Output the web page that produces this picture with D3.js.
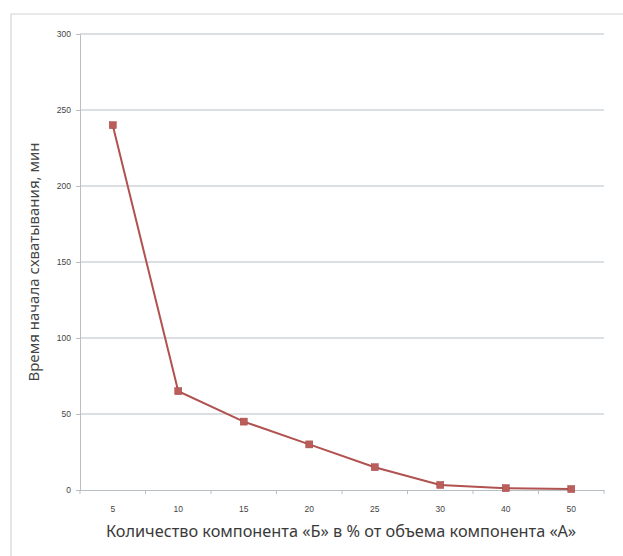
<!DOCTYPE html>
<html><head><meta charset="utf-8">
<script src="https://cdn.jsdelivr.net/npm/d3@7"></script>
<style>body{margin:0;background:#fff}svg{display:block}</style>
</head><body>
<script>
const categories = ["5","10","15","20","25","30","40","50"];
const values = [240, 65, 45, 30, 15, 3.3, 1.2, 0.6];
const yTicks = [0, 50, 100, 150, 200, 250, 300];
const xTitle = "Количество компонента «Б» в % от объема компонента «А»";
const yTitle = "Время начала схватывания, мин";

const W = 623, H = 556;
const svg = d3.select("body").append("svg").attr("width", W).attr("height", H);
const m = {left: 80, right: 604, top: 34, bottom: 490};

// frame
svg.append("path").attr("d", `M11,${H} L11,14 L${W},14`).attr("fill","none").attr("stroke","#d4d4d4").attr("stroke-width",1.2);

const x = d3.scaleBand().domain(categories).range([m.left, m.right]);
const y = d3.scaleLinear().domain([0, 300]).range([m.bottom, m.top]);

// gridlines
svg.append("g").selectAll("line").data(yTicks.filter(d => d > 0)).join("line")
  .attr("x1", m.left).attr("x2", m.right)
  .attr("y1", d => y(d)).attr("y2", d => y(d))
  .attr("stroke", "#b8bfc4").attr("stroke-width", 1);

// y axis
const yAxis = svg.append("g").attr("transform", `translate(${m.left},0)`)
  .call(d3.axisLeft(y).tickValues(yTicks).tickSize(4).tickPadding(5));
yAxis.select(".domain").attr("stroke", "#b8bfc4");
yAxis.selectAll(".tick line").attr("stroke", "#b8bfc4");
yAxis.selectAll("text").attr("fill", "#444").attr("font-size", 8.5).attr("font-family", "Liberation Sans, sans-serif");

// x axis
const xAxis = svg.append("g").attr("transform", `translate(0,${m.bottom})`)
  .call(d3.axisBottom(x).tickSize(0).tickPadding(16));
xAxis.select(".domain").attr("stroke", "#b8bfc4");
xAxis.selectAll("text").attr("fill", "#444").attr("font-size", 8.5).attr("font-family", "Liberation Sans, sans-serif");
// tick marks at band boundaries
const bounds = categories.map(c => x(c)).concat([m.right]);
xAxis.selectAll(".bt").data(bounds).join("line").attr("class","bt")
  .attr("x1", d => d).attr("x2", d => d).attr("y1", 0).attr("y2", 4)
  .attr("stroke", "#b8bfc4");

const cx = c => x(c) + x.bandwidth() / 2;
const data = categories.map((c, i) => ({c, v: values[i]}));

svg.append("path").datum(data)
  .attr("d", d3.line().x(d => cx(d.c)).y(d => y(d.v)))
  .attr("fill", "none").attr("stroke", "#b0524f").attr("stroke-width", 2);

svg.append("g").selectAll("rect").data(data).join("rect")
  .attr("x", d => cx(d.c) - 3.5).attr("y", d => y(d.v) - 3.5)
  .attr("width", 7).attr("height", 7)
  .attr("fill", "#bb5d5a").attr("stroke", "#a04844").attr("stroke-width", 0.5);

// titles
svg.append("text").attr("x", 341).attr("y", 537).attr("text-anchor", "middle")
  .attr("font-family", "Noto Sans, sans-serif").attr("font-size", 16.3).attr("fill", "#3a3a3a")
  .text(xTitle);
svg.append("text").attr("transform", `translate(39,262) rotate(-90)`).attr("text-anchor", "middle")
  .attr("font-family", "Noto Sans, sans-serif").attr("font-size", 15).attr("fill", "#454545")
  .text(yTitle);
</script>
</body></html>
